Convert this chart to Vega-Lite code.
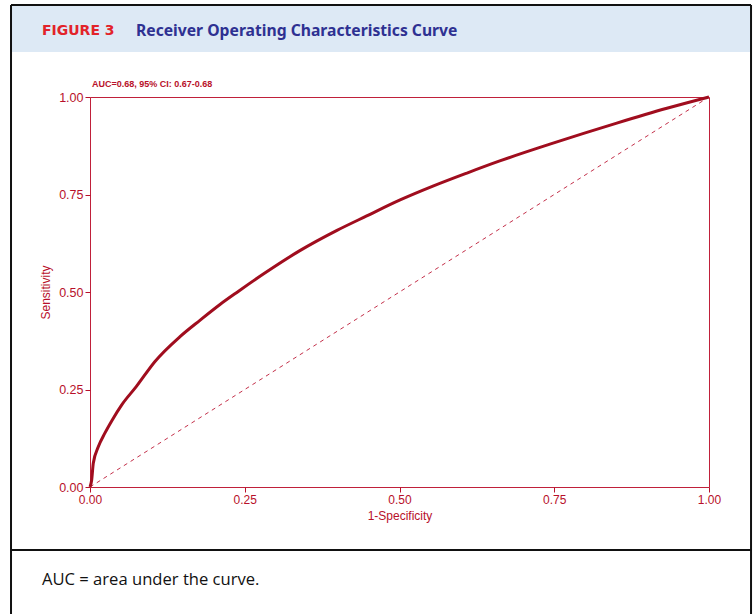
{
  "$schema": "https://vega.github.io/schema/vega-lite/v6.json",
  "width": 619,
  "height": 390,
  "autosize": "none",
  "padding": {"left": 90, "top": 97, "right": 46, "bottom": 127},
  "background": "white",
  "data": {"values": [{}]},
  "config": {
    "view": {"stroke": "#c0203a", "strokeWidth": 1},
    "font": "Liberation Sans"
  },
  "datasets": {
    "roc": [
      {"fpr": 0, "tpr": 0},
      {"fpr": 0.0027, "tpr": 0.018},
      {"fpr": 0.0053, "tpr": 0.061},
      {"fpr": 0.0134, "tpr": 0.103},
      {"fpr": 0.024, "tpr": 0.138},
      {"fpr": 0.036, "tpr": 0.172},
      {"fpr": 0.051, "tpr": 0.21},
      {"fpr": 0.075, "tpr": 0.258},
      {"fpr": 0.105, "tpr": 0.322},
      {"fpr": 0.145, "tpr": 0.385},
      {"fpr": 0.178, "tpr": 0.428},
      {"fpr": 0.21, "tpr": 0.468},
      {"fpr": 0.24, "tpr": 0.502},
      {"fpr": 0.28, "tpr": 0.546},
      {"fpr": 0.339, "tpr": 0.606},
      {"fpr": 0.399, "tpr": 0.658},
      {"fpr": 0.447, "tpr": 0.695},
      {"fpr": 0.501, "tpr": 0.736},
      {"fpr": 0.555, "tpr": 0.772},
      {"fpr": 0.609, "tpr": 0.805},
      {"fpr": 0.662, "tpr": 0.836},
      {"fpr": 0.743, "tpr": 0.879},
      {"fpr": 0.851, "tpr": 0.933},
      {"fpr": 0.932, "tpr": 0.971},
      {"fpr": 1, "tpr": 1}
    ]
  },
  "layer": [
    {
      "mark": {"type": "rect", "fill": "#dde9f5"},
      "encoding": {
        "x": {"datum": -0.1276, "type": "quantitative", "scale": {"domain": [0, 1], "nice": false, "zero": false}},
        "x2": {"datum": 1.0679},
        "y": {"datum": 1.2359, "type": "quantitative", "scale": {"domain": [0, 1], "nice": false, "zero": false}},
        "y2": {"datum": 1.1154}
      }
    },
    {
      "mark": {"type": "rule", "color": "#111111", "strokeWidth": 2},
      "encoding": {
        "x": {"datum": -0.1276, "type": "quantitative"},
        "y": {"datum": 1.2359, "type": "quantitative"},
        "y2": {"datum": -0.3256}
      }
    },
    {
      "mark": {"type": "rule", "color": "#111111", "strokeWidth": 2},
      "encoding": {
        "x": {"datum": 1.0679, "type": "quantitative"},
        "y": {"datum": 1.2359, "type": "quantitative"},
        "y2": {"datum": -0.3256}
      }
    },
    {
      "mark": {"type": "rule", "color": "#111111", "strokeWidth": 2},
      "encoding": {
        "x": {"datum": -0.1276, "type": "quantitative"},
        "x2": {"datum": 1.0679},
        "y": {"datum": 1.2359, "type": "quantitative"}
      }
    },
    {
      "mark": {"type": "rule", "color": "#111111", "strokeWidth": 2},
      "encoding": {
        "x": {"datum": -0.1276, "type": "quantitative"},
        "x2": {"datum": 1.0679},
        "y": {"datum": -0.1615, "type": "quantitative"}
      }
    },
    {
      "mark": {"type": "text", "text": "FIGURE 3", "align": "left", "baseline": "middle", "font": "DejaVu Sans", "fontWeight": "bold", "fontSize": 14, "color": "#e2232a"},
      "encoding": {
        "x": {"datum": -0.0776, "type": "quantitative"},
        "y": {"datum": 1.1692, "type": "quantitative"}
      }
    },
    {
      "mark": {"type": "text", "text": "Receiver Operating Characteristics Curve", "align": "left", "baseline": "middle", "font": "Noto Sans", "fontWeight": "bold", "fontSize": 15.7, "color": "#2e3192"},
      "encoding": {
        "x": {"datum": 0.0743, "type": "quantitative"},
        "y": {"datum": 1.1692, "type": "quantitative"}
      }
    },
    {
      "mark": {"type": "text", "text": "AUC = area under the curve.", "align": "left", "baseline": "middle", "font": "Open Sans", "fontSize": 16.6, "color": "#111111"},
      "encoding": {
        "x": {"datum": -0.0776, "type": "quantitative"},
        "y": {"datum": -0.2385, "type": "quantitative"}
      }
    },
    {
      "mark": {"type": "text", "text": "AUC=0.68, 95% CI: 0.67-0.68", "align": "left", "baseline": "middle", "font": "Liberation Sans", "fontWeight": "bold", "fontSize": 9, "color": "#b8102a"},
      "encoding": {
        "x": {"datum": 0.0032, "type": "quantitative"},
        "y": {"datum": 1.0333, "type": "quantitative"}
      }
    },
    {
      "mark": {"type": "rule", "color": "#c4304a", "strokeWidth": 1, "strokeDash": [4, 4]},
      "encoding": {
        "x": {"datum": 0, "type": "quantitative"},
        "y": {"datum": 0, "type": "quantitative"},
        "x2": {"datum": 1},
        "y2": {"datum": 1}
      }
    },
    {
      "data": {"name": "roc"},
      "mark": {"type": "line", "color": "#a00d1e", "strokeWidth": 3, "interpolate": "monotone"},
      "encoding": {
        "x": {
          "field": "fpr", "type": "quantitative",
          "scale": {"domain": [0, 1], "nice": false, "zero": false},
          "axis": {"title": "1-Specificity", "values": [0, 0.25, 0.5, 0.75, 1], "format": ".2f", "domain": false, "grid": false, "labelFlush": false, "tickColor": "#b8102a", "tickSize": 5, "labelColor": "#b8102a", "labelFontSize": 12, "labelPadding": 2, "titleColor": "#b8102a", "titleFontSize": 12, "titleFontWeight": "normal", "titlePadding": 5}
        },
        "y": {
          "field": "tpr", "type": "quantitative",
          "scale": {"domain": [0, 1], "nice": false, "zero": false},
          "axis": {"title": "Sensitivity", "values": [0, 0.25, 0.5, 0.75, 1], "format": ".2f", "domain": false, "grid": false, "labelFlush": false, "tickColor": "#b8102a", "tickSize": 5, "labelColor": "#b8102a", "labelFontSize": 12.5, "labelPadding": 2, "titleColor": "#b8102a", "titleFontSize": 12, "titleFontWeight": "normal", "titlePadding": 6}
        }
      }
    }
  ]
}
